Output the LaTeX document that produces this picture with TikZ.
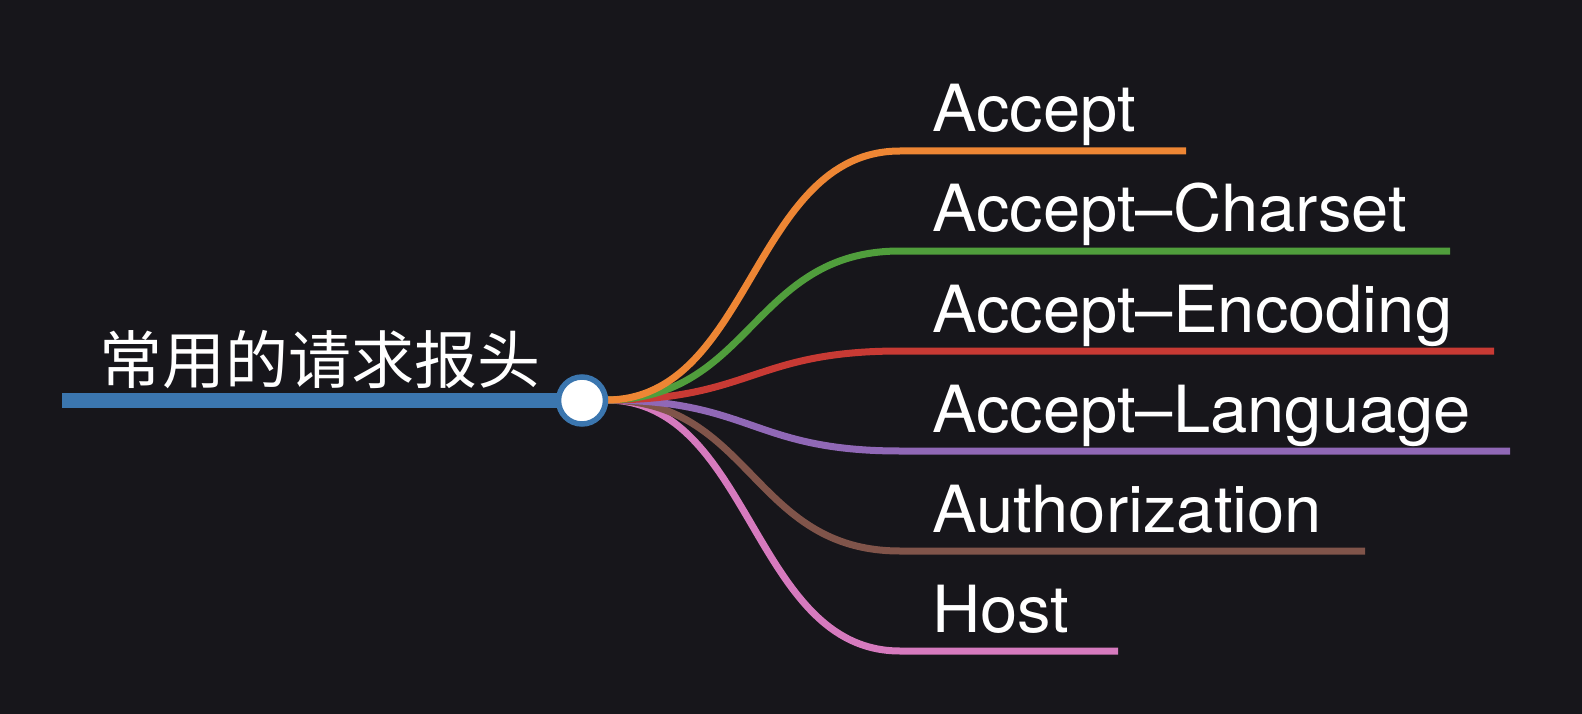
\documentclass[tikz,border=0pt]{standalone}
\usepackage{fontspec}
\setmainfont{TeX Gyre Heros}[FakeStretch=1.03]
\newfontfamily\cjk{Noto Sans CJK SC}
\definecolor{bg}{RGB}{23,22,27}
\definecolor{cblue}{RGB}{59,118,175}
\definecolor{corange}{RGB}{238,134,52}
\definecolor{cgreen}{RGB}{80,158,60}
\definecolor{cred}{RGB}{200,58,52}
\definecolor{cpurple}{RGB}{144,104,182}
\definecolor{cbrown}{RGB}{128,84,74}
\definecolor{cpink}{RGB}{214,122,190}
\tikzset{
  lbl/.style={anchor=base west, inner sep=0pt, text=white, font=\fontsize{65}{70}\selectfont},
  branch/.style={line width=7pt},
}
\begin{document}
\begin{tikzpicture}[x=1pt,y=-1pt]
\fill[bg] (0,0) rectangle (1582,714);
\useasboundingbox (0,0) rectangle (1582,714);
\coordinate (rootstart) at (62,400.5);
\coordinate (root) at (582,400.5);
\coordinate (s) at (606,400);
% root label
\node[anchor=base west, inner sep=0pt, text=white, font=\cjk\fontsize{63}{70}\selectfont] (rl) at (99,383) {常用的请求报头};
\draw[cblue, line width=15pt] (rootstart) -- (root);
% branch labels
\node[lbl] (a) at (932,132) {Accept};
\node[lbl] (b) at (932,232) {Accept–Charset};
\node[lbl] (c) at (932,332) {Accept–Encoding};
\node[lbl] (d) at (932,432) {Accept–Language};
\node[lbl] (e) at (932,532) {Authorization};
\node[lbl] (f) at (932,632) {Host};
% end coordinates
\coordinate (ae) at (1186,151);
\coordinate (be) at (1450,251);
\coordinate (ce) at (1494,351);
\coordinate (de) at (1510,451);
\coordinate (ee) at (1365,551);
\coordinate (fe) at (1118,651);
\draw[branch, cpink] (s) .. controls (752,400) and (752,651) .. (900,651) -- (fe);
\draw[branch, cbrown] (s) .. controls (752,400) and (752,551) .. (900,551) -- (ee);
\draw[branch, cpurple] (s) .. controls (752,400) and (752,451) .. (900,451) -- (de);
\draw[branch, cred] (s) .. controls (752,400) and (752,351) .. (900,351) -- (ce);
\draw[branch, cgreen] (s) .. controls (752,400) and (752,251) .. (900,251) -- (be);
\draw[branch, corange] (s) .. controls (752,400) and (752,151) .. (900,151) -- (ae);
\node[circle, draw=cblue, fill=white, line width=5.5pt, minimum size=47pt, inner sep=0pt] (rc) at (root) {};
\end{tikzpicture}
\end{document}
